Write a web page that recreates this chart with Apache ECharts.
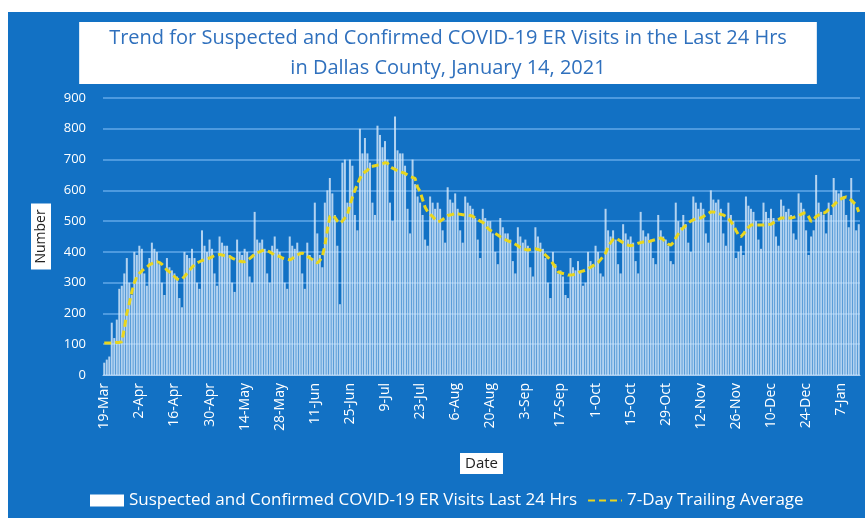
<!DOCTYPE html>
<html>
<head>
<meta charset="utf-8">
<script src="https://cdn.jsdelivr.net/npm/echarts@6/dist/echarts.min.js"></script>
<style>
  html, body { margin: 0; padding: 0; background: #ffffff; }
  #main { position: absolute; left: 8px; top: 12px; width: 857px; height: 506px; background: #1271c4; }
</style>
</head>
<body>
<div id="main"></div>
<script>
// daily ER visits, starting 19-Mar-2020 (one row = one week)
var visits = [
  40, 50, 60, 170, 120, 180, 280,
  290, 330, 380, 300, 260, 400, 390,
  420, 410, 330, 290, 380, 430, 410,
  400, 360, 300, 260, 380, 350, 340,
  330, 320, 250, 220, 400, 390, 380,
  410, 380, 300, 280, 470, 420, 400,
  440, 410, 330, 290, 450, 430, 420,
  420, 390, 300, 270, 440, 400, 390,
  410, 400, 320, 300, 530, 440, 430,
  440, 410, 330, 300, 420, 450, 410,
  400, 380, 300, 280, 450, 420, 410,
  430, 400, 330, 280, 430, 390, 380,
  560, 460, 390, 350, 560, 600, 640,
  590, 520, 420, 230, 690, 700, 560,
  700, 680, 520, 470, 800, 720, 770,
  720, 690, 560, 520, 810, 780, 740,
  760, 700, 560, 500, 840, 730, 720,
  720, 680, 540, 460, 700, 620, 580,
  560, 520, 440, 420, 580, 560, 540,
  560, 540, 470, 430, 610, 570, 560,
  590, 540, 470, 430, 580, 560, 550,
  540, 510, 440, 380, 540, 510, 500,
  500, 460, 400, 360, 510, 480, 460,
  460, 440, 370, 330, 480, 450, 430,
  440, 420, 350, 320, 480, 450, 430,
  410, 380, 300, 250, 400, 360, 330,
  340, 320, 260, 250, 380, 350, 340,
  370, 340, 290, 300, 400, 370, 360,
  420, 400, 330, 320, 540, 470, 450,
  470, 440, 360, 330, 490, 460, 440,
  450, 430, 370, 330, 530, 470, 450,
  460, 440, 380, 360, 520, 470, 450,
  440, 420, 370, 360, 560, 500, 480,
  520, 490, 430, 400, 580, 560, 540,
  560, 540, 460, 430, 600, 570, 560,
  570, 540, 460, 420, 560, 520, 500,
  380, 400, 420, 390, 580, 550, 540,
  530, 500, 440, 410, 560, 530, 510,
  540, 510, 450, 420, 570, 550, 530,
  540, 520, 460, 440, 590, 560, 540,
  470, 390, 450, 470, 650, 560, 530,
  520, 460, 560, 520, 640, 600, 590,
  600, 580, 520, 480, 640, 560, 470,
  490
];

// 7-day trailing average as plotted
var average = [
  104, 104, 104, 104, 105, 106, 106,
  108, 150, 200, 233, 270, 300, 319,
  330, 338, 345, 350, 358, 362, 365,
  368, 366, 360, 352, 341, 335, 328,
  320, 312, 309, 312, 320, 330, 340,
  350, 358, 364, 368, 372, 375, 378,
  380, 384, 388, 390, 392, 390, 388,
  386, 385, 380, 376, 372, 370, 368,
  368, 372, 378, 385, 392, 398, 400,
  404, 406, 404, 400, 395, 390, 388,
  385, 380, 378, 376, 374, 378, 385,
  390, 394, 396, 392, 386, 380, 375,
  368, 364, 372, 385, 420, 470, 515,
  520, 512, 500, 493, 500, 510, 520,
  552, 578, 600, 620, 639, 652, 660,
  665, 677, 678, 680, 682, 684, 686,
  690, 688, 677, 672, 668, 664, 660,
  658, 655, 650, 645, 642, 639, 610,
  596, 570, 545, 531, 522, 515, 506,
  498, 500, 505, 512, 518, 520, 522,
  526, 524, 522, 521, 520, 520, 518,
  516, 510, 505, 500, 496, 490, 477,
  470, 465, 460, 455, 449, 445, 440,
  436, 433, 430, 425, 420, 414, 412,
  408, 406, 408, 410, 410, 408, 405,
  398, 390, 382, 374, 362, 350, 336,
  332, 330, 328, 325, 325, 326, 328,
  332, 336, 338, 341, 345, 350, 355,
  360, 365, 375, 385, 396, 415, 430,
  440, 445, 440, 435, 430, 426, 422,
  420, 422, 425, 428, 430, 432, 433,
  433, 435, 438, 440, 443, 445, 440,
  432, 425, 422, 430, 445, 458, 470,
  478, 486, 494, 500, 504, 508, 510,
  510, 515, 520, 525, 530, 530, 528,
  525, 522, 520, 515, 508, 498, 487,
  470, 455, 449, 458, 470, 480, 487,
  488, 487, 487, 487, 487, 488, 489,
  490, 495, 500, 505, 510, 510, 510,
  510, 510, 512, 515, 518, 522, 526,
  526, 515, 498, 505, 515, 520, 526,
  526, 530, 538, 545, 552, 560, 568,
  572, 576, 579, 575, 568, 560, 552,
  530
];

var months = ['Jan','Feb','Mar','Apr','May','Jun','Jul','Aug','Sep','Oct','Nov','Dec'];
var dates = [];
for (var i = 0; i < visits.length; i++) {
  var d = new Date(2020, 2, 19 + i);
  dates.push(d.getDate() + '-' + months[d.getMonth()]);
}

var chart = echarts.init(document.getElementById('main'));
var font = "'Open Sans', 'Noto Sans', sans-serif";

var option = {
  animation: false,
  title: {
    text: 'Trend for Suspected and Confirmed COVID-19 ER Visits in the Last 24 Hrs\nin Dallas County, January 14, 2021',
    left: 410,
    top: 10,
    textAlign: 'center',
    backgroundColor: '#ffffff',
    padding: [1, 30, 1, 30],
    textStyle: {
      color: '#2f70bd',
      fontSize: 20,
      fontWeight: 'normal',
      lineHeight: 30,
      fontFamily: font
    }
  },
  legend: {
    bottom: 4,
    left: 77,
    itemGap: 10,
    itemWidth: 34,
    itemHeight: 12,
    textStyle: { color: '#ffffff', fontSize: 17, fontFamily: font },
    data: [
      { name: 'Suspected and Confirmed COVID-19 ER Visits Last 24 Hrs', icon: 'rect', itemStyle: { color: '#ffffff' } },
      { name: '7-Day Trailing Average', itemStyle: { opacity: 0 } }
    ]
  },
  grid: { left: 95, right: 5, top: 86, bottom: 143 },
  xAxis: {
    type: 'category',
    data: dates,
    name: 'Date',
    nameLocation: 'middle',
    nameGap: 78,
    nameTextStyle: {
      color: '#222222',
      backgroundColor: '#ffffff',
      padding: [3, 5],
      fontSize: 15,
      fontFamily: font
    },
    axisLine: { lineStyle: { color: '#a9cdf0' } },
    axisTick: { interval: 0, length: 4, lineStyle: { color: '#a9cdf0' } },
    axisLabel: {
      interval: 13,
      rotate: 90,
      color: '#ffffff',
      fontSize: 14,
      fontFamily: font
    }
  },
  yAxis: {
    type: 'value',
    min: 0,
    max: 900,
    interval: 100,
    name: 'Number',
    nameLocation: 'middle',
    nameRotate: 90,
    nameGap: 52,
    nameTextStyle: {
      color: '#222222',
      backgroundColor: '#ffffff',
      padding: [3, 6],
      fontSize: 14,
      fontFamily: font
    },
    axisLabel: { color: '#ffffff', fontSize: 13, fontFamily: font, margin: 17 },
    splitLine: { lineStyle: { color: '#62a8e8', width: 1.5 } }
  },
  series: [
    {
      name: 'Suspected and Confirmed COVID-19 ER Visits Last 24 Hrs',
      type: 'bar',
      data: visits,
      barCategoryGap: '20%',
      itemStyle: { color: 'rgba(214,232,250,0.82)' }
    },
    {
      name: '7-Day Trailing Average',
      type: 'line',
      data: average,
      showSymbol: false,
      symbol: 'none',
      lineStyle: { color: '#e9d61e', width: 3, type: [7, 4] },
      itemStyle: { color: '#e9d61e' }
    }
  ]
};

chart.setOption(option);
</script>
</body>
</html>
